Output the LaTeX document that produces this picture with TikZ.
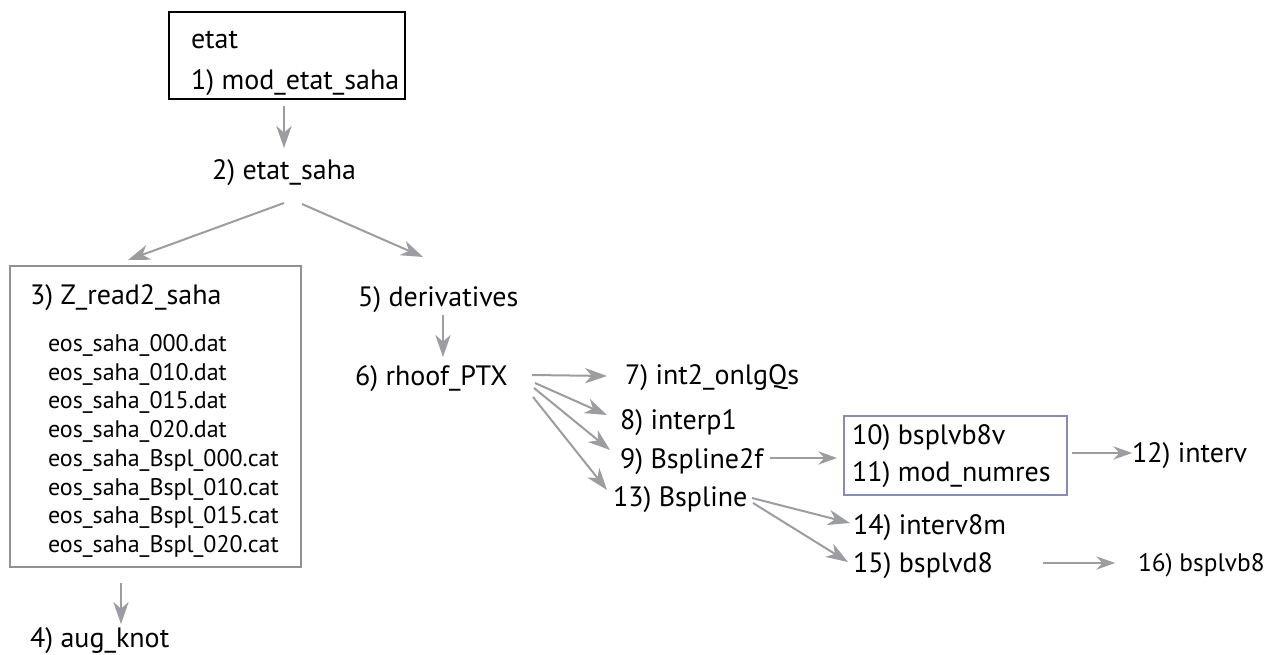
\documentclass[tikz,border=0pt]{standalone}
\usepackage{fontspec}
\setmainfont{PT Sans}
\usetikzlibrary{arrows.meta}
\definecolor{arrgray}{RGB}{155,157,160}
\definecolor{boxgray}{RGB}{145,145,145}
\definecolor{boxblue}{RGB}{135,140,178}
\begin{document}
\begin{tikzpicture}[x=0.75pt,y=-0.75pt,
  lbl/.style={anchor=west,inner sep=0pt,outer sep=0pt,font=\fontsize{21}{25}\selectfont,text height=14.7pt,text depth=0pt},
  small/.style={lbl,font=\fontsize{18}{21}\selectfont,text height=12.6pt},
  endlbl/.style={lbl,font=\fontsize{19}{22}\selectfont,text height=13.3pt},
  boxn/.style={inner sep=0pt,outer sep=0pt},
  arr/.style={draw=arrgray,line width=1.5pt,-{Stealth[length=16.5pt,width=11.5pt,inset=5pt]}},
  arrthin/.style={draw=arrgray,line width=1.1pt,-{Stealth[length=14pt,width=10pt,inset=4.5pt]}}
  ]
\useasboundingbox (0,0) rectangle (1275,655);

% boxes
\node[boxn,draw=black,line width=1.5pt,minimum width=177pt,minimum height=65.25pt] (box1) at (287,55.5) {};
\node[boxn,draw=boxgray,line width=1.1pt,minimum width=218.25pt,minimum height=225.75pt] (box3) at (155.5,416.5) {};
\node[boxn,draw=boxblue,line width=1.1pt,minimum width=167.25pt,minimum height=59.25pt] (box10) at (955.5,455.5) {};

% labels
\node[lbl] (etat) at (191,39) {etat};
\node[lbl] (n1) at (191,80) {1) mod\_etat\_saha};
\node[lbl] (n2) at (212,170) {2) etat\_saha};
\node[lbl] (n3) at (30,295) {3) Z\_read2\_saha};
\node[small] (f1) at (48,343) {eos\_saha\_000.dat};
\node[small] (f2) at (48,372) {eos\_saha\_010.dat};
\node[small] (f3) at (48,400.5) {eos\_saha\_015.dat};
\node[small] (f4) at (48,429.5) {eos\_saha\_020.dat};
\node[small] (f5) at (48,458) {eos\_saha\_Bspl\_000.cat};
\node[small] (f6) at (48,487) {eos\_saha\_Bspl\_010.cat};
\node[small] (f7) at (48,515.5) {eos\_saha\_Bspl\_015.cat};
\node[small] (f8) at (48,544.5) {eos\_saha\_Bspl\_020.cat};
\node[lbl] (n4) at (30,638) {4) aug\_knot};
\node[lbl] (n5) at (358,297) {5) derivatives};
\node[lbl] (n6) at (355,376) {6) rhoof\_PTX};
\node[lbl] (n7) at (625,375) {7) int2\_onlgQs};
\node[lbl] (n8) at (620,420) {8) interp1};
\node[lbl] (n9) at (620,459) {9) Bspline2f};
\node[lbl] (n13) at (613,497) {13) Bspline};
\node[lbl] (n10) at (852,435) {10) bsplvb8v};
\node[lbl] (n11) at (852,472) {11) mod\_numres};
\node[lbl] (n12) at (1132,453) {12) interv};
\node[lbl] (n14) at (853,525) {14) interv8m};
\node[lbl] (n15) at (853,563) {15) bsplvd8};
\node[endlbl] (n16) at (1138,563) {16) bsplvb8};

% connectors
\draw[arr] ([shift={(-3,7)}]box1.south) -- ([shift={(72,-22)}]n2.west);
\draw[arr] ([shift={(72,33)}]n2.west) -- ([shift={(-27.5,-6)}]box3.north);
\draw[arr] ([shift={(90,34)}]n2.west) -- ([shift={(65,-40)}]n5.west);
\draw[arr] ([shift={(-34.5,16)}]box3.south) -- ([shift={(91,-14)}]n4.west);
\draw[arr] ([shift={(85,18)}]n5.west) -- ([shift={(88,-19)}]n6.west);
\draw[arr] ([shift={(177,-1)}]n6.west) -- ([shift={(-18,1)}]n7.west);
\draw[arr] ([shift={(180,7)}]n6.west) -- ([shift={(-13,-5)}]n8.west);
\draw[arr] ([shift={(179,12)}]n6.west) -- ([shift={(-10,-9)}]n9.west);
\draw[arr] ([shift={(178,21)}]n6.west) -- ([shift={(-6,-7)}]n13.west);
\draw[arrthin] ([shift={(150,-1)}]n9.west) -- ([shift={(-7,2.5)}]box10.west);
\draw[arrthin] ([shift={(5,-2.5)}]box10.east) -- (n12.west);
\draw[arr] ([shift={(139,1)}]n13.west) -- ([shift={(-3,-2)}]n14.west);
\draw[arr] ([shift={(140,6)}]n13.west) -- ([shift={(-5,-1)}]n15.west);
\draw[arrthin] ([shift={(190,0)}]n15.west) -- ([shift={(-23,0)}]n16.west);
\end{tikzpicture}
\end{document}
